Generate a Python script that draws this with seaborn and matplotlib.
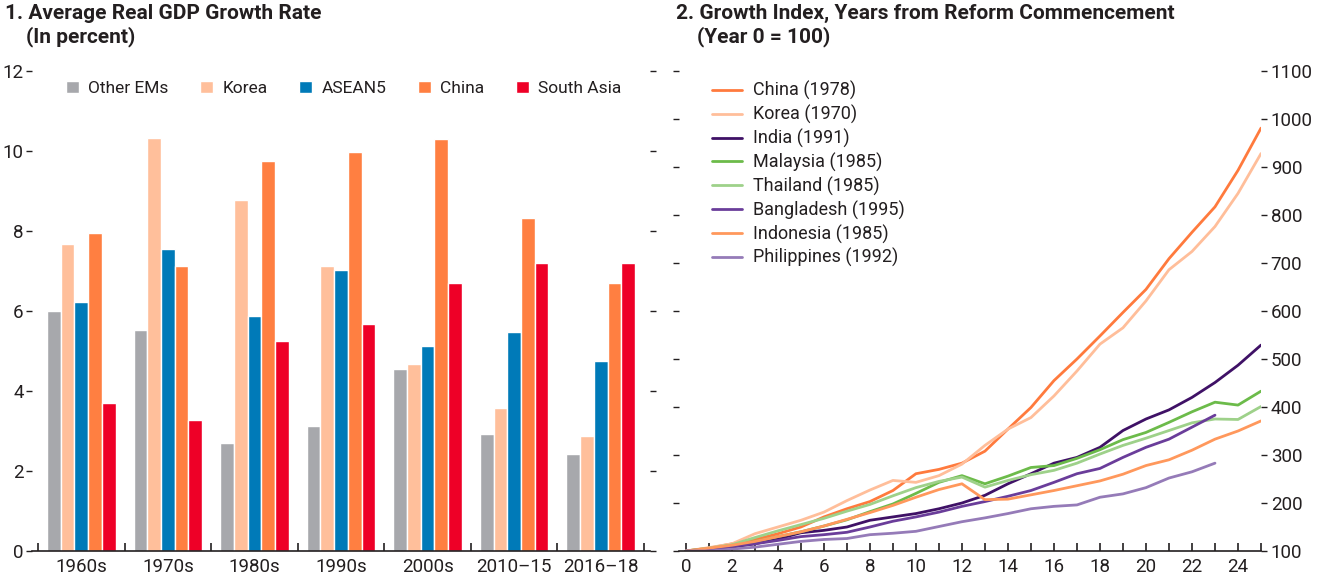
import numpy as np
import pandas as pd
import matplotlib
matplotlib.use("Agg")
import matplotlib.pyplot as plt
import seaborn as sns

# ---------------- Data: panel 1 ----------------
periods = ["1960s", "1970s", "1980s", "1990s", "2000s", "2010–15", "2016–18"]
groups = ["Other EMs", "Korea", "ASEAN5", "China", "South Asia"]
other_ems = [6.00, 5.52, 2.70, 3.13, 4.55, 2.93, 2.43]
korea = [7.68, 10.32, 8.77, 7.12, 4.68, 3.58, 2.88]
asean5 = [6.22, 7.56, 5.87, 7.02, 5.12, 5.47, 4.75]
china = [7.96, 7.12, 9.74, 9.97, 10.29, 8.32, 6.69]
south_asia = [3.70, 3.28, 5.25, 5.67, 6.69, 7.19, 7.19]
bar_colors = ["#A7A8AC", "#FFBF9B", "#007AB8", "#FF7F41", "#EE0027"]

# ---------------- Data: panel 2 ----------------
countries = ["China (1978)", "Korea (1970)", "India (1991)", "Malaysia (1985)",
             "Thailand (1985)", "Bangladesh (1995)", "Indonesia (1985)", "Philippines (1992)"]
china_idx = [100, 106, 115, 124, 136, 150, 171, 188, 203, 226, 261, 270, 283, 308, 354, 399,
             455, 500, 548, 597, 645, 709, 764, 817, 893, 981]
korea_idx = [100, 107, 115, 136, 150, 164, 181, 205, 227, 247, 243, 257, 281, 320, 354, 378,
             423, 475, 531, 565, 621, 686, 724, 776, 845, 928]
india_idx = [100, 103, 108, 115, 125, 138, 143, 150, 164, 171, 178, 188, 200, 216, 240, 261,
             283, 295, 316, 351, 375, 394, 420, 451, 487, 529]
malaysia_idx = [100, 105, 112, 120, 130, 140, 152, 165, 182, 198, 220, 243, 257, 240, 256, 274,
                278, 293, 311, 332, 347, 368, 390, 410, 404, 433]
thailand_idx = [100, 106, 113, 128, 142, 155, 168, 183, 197, 215, 232, 245, 254, 233, 247, 259,
                268, 283, 302, 320, 335, 351, 367, 375, 374, 401]
bangladesh_idx = [100, 104, 110, 115, 122, 130, 134, 139, 150, 162, 171, 181, 193, 203, 214, 226,
                  243, 261, 272, 295, 316, 333, 358, 383]
indonesia_idx = [100, 106, 112, 120, 130, 140, 152, 166, 180, 195, 212, 228, 240, 207, 208, 217,
                 226, 236, 246, 260, 278, 290, 310, 333, 350, 371]
philippines_idx = [100, 100, 104, 108, 114, 120, 124, 126, 134, 137, 141, 151, 161, 169, 178, 188,
                   193, 196, 212, 219, 232, 252, 265, 283]
line_colors = ["#FF7A3D", "#FFBE9A", "#3F1166", "#6CBB4A", "#9ED18A", "#6A3D9A", "#FF985C", "#957BB8"]

# ---------------- Build frames ----------------
bar_df = pd.DataFrame({
    "period": np.repeat(periods, len(groups)),
    "group": groups * len(periods),
    "value": np.array([other_ems, korea, asean5, china, south_asia]).T.ravel(),
})
series = [china_idx, korea_idx, india_idx, malaysia_idx, thailand_idx,
          bangladesh_idx, indonesia_idx, philippines_idx]
rows = []
for c, vals in zip(countries, series):
    for yr, v in enumerate(vals):
        rows.append((c, yr, v))
line_df = pd.DataFrame(rows, columns=["country", "year", "value"])

# ---------------- Style ----------------
sns.set_theme(style="white")
FONT = ["Roboto", "Liberation Sans", "DejaVu Sans"]
plt.rcParams["font.family"] = FONT
plt.rcParams["text.color"] = "#231F20"
plt.rcParams["axes.labelcolor"] = "#231F20"
plt.rcParams["xtick.color"] = "#231F20"
plt.rcParams["ytick.color"] = "#231F20"

W, H = 1329, 584
fig = plt.figure(figsize=(W / 100, H / 100), dpi=100)

def px_axes(x0, y0, x1, y1):
    return fig.add_axes([x0 / W, 1 - y1 / H, (x1 - x0) / W, (y1 - y0) / H])

ax1 = px_axes(32, 71, 650, 551)
ax2 = px_axes(679, 71, 1261, 551)

# ---------------- Panel 1 ----------------
sns.barplot(data=bar_df, x="period", y="value", hue="group", hue_order=groups,
            palette=bar_colors, saturation=1, width=0.79, ax=ax1, legend=True)
ax1.set_ylim(0, 12)
ax1.set_xlim(-0.57, 6.57)
ax1.set_yticks([0, 2, 4, 6, 8, 10, 12])
ax1.set_xlabel("")
ax1.set_ylabel("")
for s in ["top", "left", "right"]:
    ax1.spines[s].set_visible(False)
ax1.spines["bottom"].set_color("#231F20")
ax1.spines["bottom"].set_linewidth(1.2)
ax1.tick_params(axis="y", which="both", left=True, right=True, labelleft=True, labelright=False,
                direction="out", length=4, width=1, labelsize=13.5, pad=2)
ax1.set_xticks(np.arange(-0.5, 7.0, 1.0), minor=True)
ax1.tick_params(axis="x", which="minor", direction="in", length=6, width=1.2, bottom=True)
ax1.tick_params(axis="x", which="major", length=0, labelsize=13.5, pad=5)
leg1 = ax1.legend(loc="upper left", bbox_to_anchor=(0.035, 1.005), ncol=5, frameon=False,
                  handlelength=0.75, handleheight=0.75, handletextpad=0.55, columnspacing=1.8,
                  fontsize=12.5, borderaxespad=0.3)

# ---------------- Panel 2 ----------------
sns.lineplot(data=line_df, x="year", y="value", hue="country", hue_order=countries,
             palette=line_colors, linewidth=2.0, ax=ax2, legend=True)
ax2.set_ylim(100, 1100)
ax2.set_xlim(-0.3, 25)
ax2.set_yticks(np.arange(100, 1101, 100))
ax2.set_xticks(np.arange(0, 25, 2))
ax2.set_xticks(np.arange(0, 26, 1), minor=True)
ax2.set_xlabel("")
ax2.set_ylabel("")
for s in ["top", "left", "right"]:
    ax2.spines[s].set_visible(False)
ax2.spines["bottom"].set_color("#231F20")
ax2.spines["bottom"].set_linewidth(1.2)
ax2.tick_params(axis="y", which="both", left=True, right=True, labelleft=False, labelright=True,
                direction="out", length=4, width=1, labelsize=13.5, pad=3)
ax2.tick_params(axis="x", which="both", direction="in", length=6, width=1.2, bottom=True,
                labelsize=13.5, pad=5)
leg2 = ax2.legend(loc="upper left", bbox_to_anchor=(0.035, 1.005), frameon=False, fontsize=13,
                  handlelength=1.65, handletextpad=0.6, labelspacing=0.26, borderaxespad=0.3)
for h in leg2.get_lines():
    h.set_linewidth(2.0)

# ---------------- Titles ----------------
fig.text(5 / W, 1 - 4 / H, "1. Average Real GDP Growth Rate\n    (In percent)", ha="left", va="top",
         fontsize=15, fontweight="bold", linespacing=1.2)
fig.text(676 / W, 1 - 4 / H, "2. Growth Index, Years from Reform Commencement\n    (Year 0 = 100)",
         ha="left", va="top", fontsize=15, fontweight="bold", linespacing=1.2)

fig.savefig("out.png", dpi=100, facecolor="white")
